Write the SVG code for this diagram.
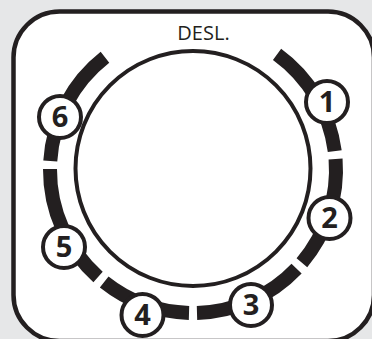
<svg xmlns="http://www.w3.org/2000/svg" width="372" height="339" viewBox="0 0 372 339">
<style>
.seg{fill:none;stroke:#231f20;stroke-width:14;stroke-linecap:butt}
.num circle{fill:#fff;stroke:#231f20;stroke-width:4}
.num text{font-family:"Open Sans","Liberation Sans",sans-serif;font-weight:bold;font-size:29px;fill:#231f20;text-anchor:middle}
</style>
<rect width="372" height="339" fill="#e6e7e8"/>
<rect id="panel" x="13.5" y="11.5" width="360.5" height="329.5" rx="46" fill="#fff" stroke="#231f20" stroke-width="4.5"/>
<text id="desl" x="203.5" y="40" font-family="'Open Sans','Liberation Sans',sans-serif" font-size="20" fill="#231f20" text-anchor="middle">DESL.</text>
<circle id="knob" cx="193" cy="168.5" r="117.5" fill="#fff" stroke="#231f20" stroke-width="4"/>
<g id="connectors">
<path class="seg" d="M277.05,54.31 A143,143 0 0 1 334.74,151.09"/>
<path class="seg" d="M335.58,159.03 A143,143 0 0 1 301.90,262.68"/>
<path class="seg" d="M296.56,268.62 A143,143 0 0 1 196.99,312.94"/>
<path class="seg" d="M189.01,312.94 A143,143 0 0 1 104.18,282.07"/>
<path class="seg" d="M98.06,276.94 A143,143 0 0 1 50.0,169.0"/>
<path class="seg" d="M50.28,161.02 A143,143 0 0 1 104.96,57.31"/>
</g>
<g id="n1" class="num"><circle cx="327" cy="102" r="21"/><text x="327" y="112.4">1</text></g>
<g id="n2" class="num"><circle cx="329.5" cy="218" r="21"/><text x="329.5" y="228.4">2</text></g>
<g id="n3" class="num"><circle cx="251" cy="305" r="21"/><text x="251" y="315.4">3</text></g>
<g id="n4" class="num"><circle cx="142.5" cy="315" r="21"/><text x="142.5" y="325.4">4</text></g>
<g id="n5" class="num"><circle cx="64" cy="247" r="21"/><text x="64" y="257.4">5</text></g>
<g id="n6" class="num"><circle cx="60" cy="117" r="21"/><text x="60" y="127.4">6</text></g>
</svg>
